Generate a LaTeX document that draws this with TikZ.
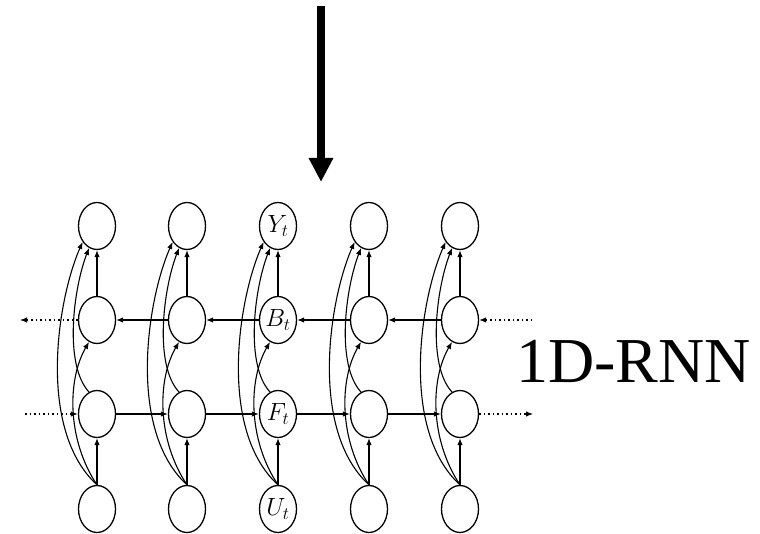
\documentclass[tikz,border=0pt]{standalone}
\usepackage{fontspec}
\setmainfont{Liberation Serif}
\usetikzlibrary{arrows.meta,shapes.geometric}
\begin{document}
\begin{tikzpicture}[x=1pt,y=-1pt,
  unit/.style={ellipse,draw,line width=1.3pt,minimum width=37pt,minimum height=47pt,inner sep=0pt},
  lab/.style={font=\fontsize{23}{23}\selectfont,inner sep=0pt},
  conn/.style={line width=1.1pt,-{Latex[length=7pt,width=5.5pt]}},
  dotconn/.style={conn,dash pattern=on 1.5pt off 3pt},
  bigarrow/.style={line width=8pt,-{Triangle[length=24pt,width=23pt]}},
  bigtext/.style={font=\fontsize{64}{64}\selectfont,inner sep=0pt,anchor=base west}]
\useasboundingbox (0,0) rectangle (760,534);
% nodes
\foreach \i/\x in {1/97,2/187,3/278,4/369,5/460}{
  \node[unit] (Y\i) at (\x,226) {};
  \node[unit] (B\i) at (\x,320) {};
  \node[unit] (F\i) at (\x,414) {};
  \node[unit] (U\i) at (\x,509) {};
}
\node[lab] (ly) at (Y3) {$Y_t$};
\node[lab] (lb) at (B3) {$B_t$};
\node[lab] (lf) at (F3) {$F_t$};
\node[lab] (lu) at (U3) {$U_t$};
% intra-column connectors
\foreach \i/\x in {1/97,2/187,3/278,4/369,5/460}{
  \draw[conn] (U\i.north) -- (F\i.south);
  \draw[conn] (B\i.north) -- (Y\i.south);
  \draw[conn] (U\i.north) .. controls ({\x-60},430) and ({\x-40},300) .. (Y\i.228);
  \draw[conn] (U\i.north) .. controls ({\x-30},440) and ({\x-30},380) .. (B\i.250);
  \draw[conn] (F\i.110) .. controls ({\x-33},365) and ({\x-24},290) .. (Y\i.250);
}
% horizontal connectors
\foreach \i/\j in {1/2,2/3,3/4,4/5}{
  \draw[conn] (F\i.east) -- (F\j.west);
  \draw[conn] (B\j.west) -- (B\i.east);
}
% dotted ends
\coordinate (bl) at (20,320);
\coordinate (fl) at (25,414);
\coordinate (br) at (532,320);
\coordinate (fr) at (533,414);
\draw[dotconn] (B1.west) -- (bl);
\draw[dotconn] (fl) -- (F1.west);
\draw[dotconn] (br) -- (B5.east);
\draw[dotconn] (F5.east) -- (fr);
% big arrow
\coordinate (ta) at (321,6);
\coordinate (tb) at (321,182);
\draw[bigarrow] (ta) -- (tb);
% label
\node[bigtext] (lbl) at (516,382) {1D-RNN};
\end{tikzpicture}
\end{document}
